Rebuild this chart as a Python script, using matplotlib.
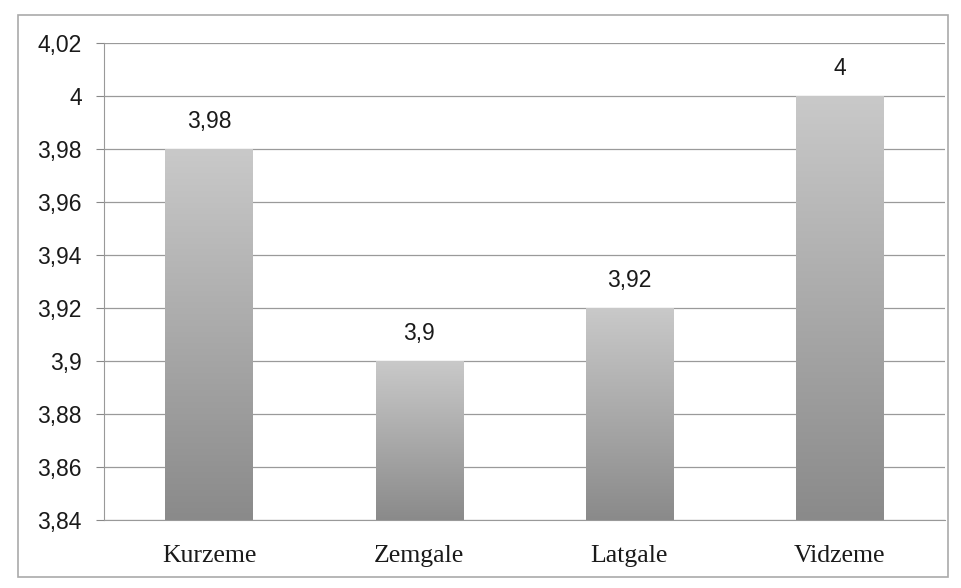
import matplotlib
matplotlib.use("Agg")
import matplotlib.pyplot as plt
import numpy as np
from matplotlib.ticker import FuncFormatter, FixedLocator
from matplotlib.patches import Rectangle

categories = ["Kurzeme", "Zemgale", "Latgale", "Vidzeme"]
values = [3.98, 3.90, 3.92, 4.00]
value_labels = ["3,98", "3,9", "3,92", "4"]
yticks = [3.84, 3.86, 3.88, 3.90, 3.92, 3.94, 3.96, 3.98, 4.00, 4.02]

fig = plt.figure(figsize=(9.62, 5.88), dpi=100)
fig.patch.set_facecolor("white")
ax = fig.add_axes([0.108, 0.116, 0.874, 0.811])

ymin, ymax = 3.84, 4.02

x = np.arange(len(categories))
bw = 0.415
bars = ax.bar(x, [v - ymin for v in values], bottom=ymin, width=bw, color="none", zorder=3)

cmap = matplotlib.colors.LinearSegmentedColormap.from_list("g", ["#8a8a8a", "#c9c9c9"])
grad = np.linspace(0, 1, 256).reshape(-1, 1)
for b in bars:
    x0 = b.get_x(); w = b.get_width(); y0 = b.get_y(); h = b.get_height()
    im = ax.imshow(grad, extent=[x0, x0 + w, y0, y0 + h], origin="lower", cmap=cmap,
                   aspect="auto", zorder=3, interpolation="bicubic")
    im.set_clip_path(b)

ax.set_xlim(-0.5, len(categories) - 0.5)
ax.set_ylim(ymin, ymax)

for xi, v, lab in zip(x, values, value_labels):
    ax.text(xi, v + 0.006, lab, ha="center", va="bottom", fontsize=16.5,
            family="Liberation Sans", color="#1a1a1a", zorder=4)

ax.yaxis.set_major_locator(FixedLocator(yticks))
ax.yaxis.set_major_formatter(FuncFormatter(lambda v, p: ("%g" % round(v, 2)).replace(".", ",")))
ax.set_xticks(x)
ax.set_xticklabels(categories, family="Liberation Serif", fontsize=18.5, color="#1a1a1a")
for t in ax.get_yticklabels():
    t.set_family("Liberation Sans"); t.set_fontsize(16.5); t.set_color("#1a1a1a")
ax.tick_params(axis="y", length=6, width=0.8, color="#888888", pad=10)
ax.tick_params(axis="x", length=0, pad=18)
ax.grid(axis="y", color="#9a9a9a", linewidth=0.9, zorder=1)
ax.set_axisbelow(True)
for s in ["top", "right"]:
    ax.spines[s].set_visible(False)
ax.spines["left"].set_color("#999999")
ax.spines["bottom"].set_color("#999999")

fig.add_artist(Rectangle((18 / 962, 1 - 577 / 588), (948 - 18) / 962, (577 - 15) / 588,
                         transform=fig.transFigure, fill=False, edgecolor="#aaaaaa", linewidth=1.2))

fig.savefig("out.png", dpi=100, facecolor="white")
